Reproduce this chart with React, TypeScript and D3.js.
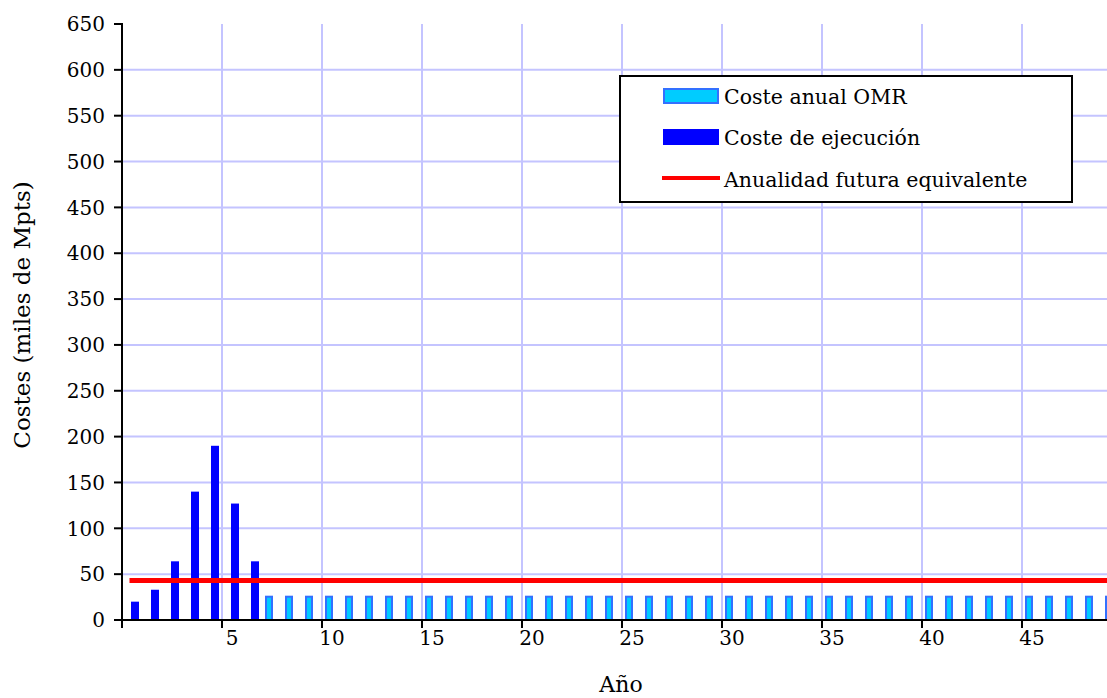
import React from "react";
import * as d3 from "d3";

const years = d3.range(0, 50);
const ejecucion = [20, 33, 64, 140, 190, 127, 64];
const omrValue = 26.5;
const omrStart = 7;
const anualidad = 43;
const yTicks = [0, 50, 100, 150, 200, 250, 300, 350, 400, 450, 500, 550, 600, 650];
const xLabels = [5, 10, 15, 20, 25, 30, 35, 40, 45];

const omr = years.map((y, i) => (i >= omrStart ? omrValue : 0));
const exec = years.map((y, i) => (i < ejecucion.length ? ejecucion[i] : 0));

export default function App() {
  const W = 1107, H = 698;
  const left = 122, top = 24, bottom = 620, right = 1122;
  const x = d3.scaleBand<number>().domain(years).range([left, right]).padding(0);
  const y = d3.scaleLinear().domain([0, 650]).range([bottom, top]);
  const bw = x.bandwidth();
  const font = "DejaVu Serif";
  const fs = 20;
  const line = d3.line<number>()
    .x((d, i) => (x(years[i]) as number) + bw / 2)
    .y((d) => y(d));
  const redData = years.map(() => anualidad);

  return (
    <svg width={W} height={H} style={{ position: "absolute", left: 0, top: 0, background: "#fff" }}>
      <rect x={0} y={0} width={W} height={H} fill="#fff" />
      {yTicks.filter((t) => t > 0 && t < 650).map((t) => (
        <line key={"h" + t} x1={left} x2={W} y1={y(t)} y2={y(t)} stroke="#c4c4ff" strokeWidth={2} />
      ))}
      {xLabels.map((v) => (
        <line key={"v" + v} x1={x(v) as number} x2={x(v) as number} y1={top} y2={bottom} stroke="#c4c4ff" strokeWidth={2} />
      ))}
      {years.map((yr, i) =>
        omr[i] > 0 ? (
          <rect key={"o" + i} x={(x(yr) as number) + bw / 2 - 6} y={y(omr[i]) + 1} width={6}
            height={bottom - y(omr[i]) - 1} fill="#00ccff" stroke="#3370ff" strokeWidth={2} />
        ) : null
      )}
      {years.map((yr, i) =>
        exec[i] > 0 ? (
          <rect key={"e" + i} x={(x(yr) as number) + bw / 2 - 1} y={y(exec[i])} width={8}
            height={bottom - y(exec[i])} fill="#0000ff" />
        ) : null
      )}
      <path d={line(redData) || ""} fill="none" stroke="#ff0000" strokeWidth={5} strokeLinecap="square" />
      <line x1={left} x2={left} y1={top - 1} y2={bottom + 1} stroke="#000" strokeWidth={2} />
      <line x1={left - 1} x2={W} y1={bottom} y2={bottom} stroke="#000" strokeWidth={2} />
      {yTicks.map((t) => (
        <g key={"yt" + t}>
          <line x1={left - 8} x2={left} y1={y(t)} y2={y(t)} stroke="#000" strokeWidth={2} />
          <text x={105} y={y(t)} dy="0.36em" textAnchor="end" fontFamily={font} fontSize={fs} fill="#000">{t}</text>
        </g>
      ))}
      <line x1={left} x2={left} y1={bottom} y2={bottom + 8} stroke="#000" strokeWidth={2} />
      {xLabels.map((v) => (
        <g key={"xt" + v}>
          <line x1={x(v) as number} x2={x(v) as number} y1={bottom} y2={bottom + 8} stroke="#000" strokeWidth={2} />
          <text x={(x(v) as number) + bw / 2} y={645} textAnchor="middle" fontFamily={font} fontSize={fs} fill="#000">{v}</text>
        </g>
      ))}
      <text x={621} y={692} textAnchor="middle" fontFamily={font} fontSize={22} fill="#000">Año</text>
      <text transform={`translate(30,315) rotate(-90)`} textAnchor="middle" fontFamily={font} fontSize={23} fill="#000">Costes (miles de Mpts)</text>
      <rect x={620} y={76} width={452} height={126} fill="#fff" stroke="#000" strokeWidth={2} />
      <rect x={664} y={89} width={54} height={14} fill="#00ccff" stroke="#3370ff" strokeWidth={2} />
      <text x={724} y={104} fontFamily={font} fontSize={20.5} fill="#000">Coste anual OMR</text>
      <rect x={663} y={129} width={56} height={16} fill="#0000ff" />
      <text x={724} y={145} fontFamily={font} fontSize={20.5} fill="#000">Coste de ejecución</text>
      <line x1={662} x2={720} y1={178} y2={178} stroke="#ff0000" strokeWidth={4} />
      <text x={724} y={187} fontFamily={font} fontSize={20.5} fill="#000">Anualidad futura equivalente</text>
    </svg>
  );
}
